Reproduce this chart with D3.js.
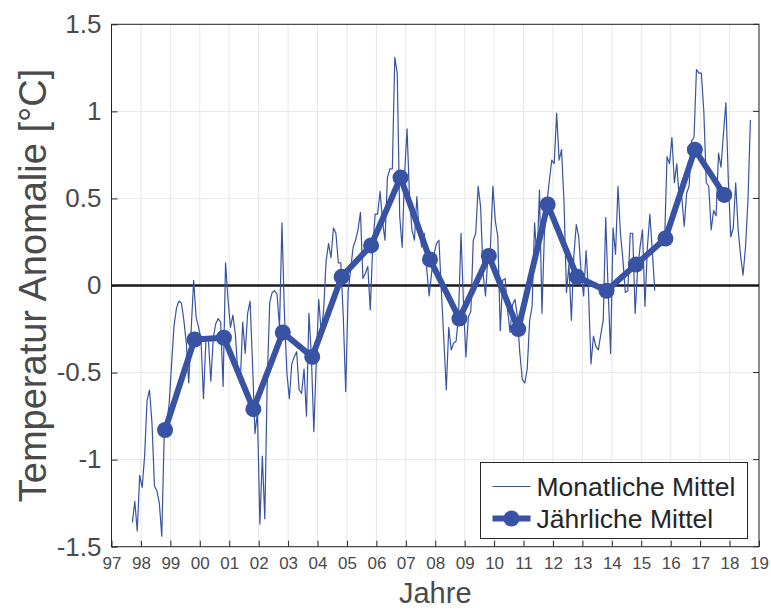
<!DOCTYPE html>
<html>
<head>
<meta charset="utf-8">
<script src="https://cdn.jsdelivr.net/npm/d3@7"></script>
<style>
body { margin: 0; background: #fff; }
svg text { font-family: Arial, "Liberation Sans", Helvetica, sans-serif; }
</style>
</head>
<body>
<div id="chart"></div>
<script>
// monthly anomalies, first value is Sep 1997, null = missing month
var monthly_start = 1997 + 8.5 / 12;
var monthly_values = [
  -1.36, -1.24, -1.41, -1.09, -1.16, -0.98, -0.66, -0.60, -0.79, -1.15, -1.18, -1.25,
  -1.44, -0.85, -0.80, -0.68, -0.45, -0.23, -0.13, -0.09, -0.10, -0.20, -0.33, -0.56,
  -0.25, 0.03, -0.18, -0.24, -0.31, -0.65, -0.31, -0.31, -0.55, -0.30, -0.22, -0.19,
  -0.21, -0.58, 0.13, -0.08, -0.24, -0.17, -0.28, -0.50, -0.56, -0.21, -0.39, -0.16,
  -0.09, -0.45, -0.85, -0.73, -1.37, -0.98, -1.34, -0.55, -0.10, -0.04, -0.03, -0.05,
  -0.24, 0.36, -0.16, -0.50, -0.65, -0.45, -0.41, -0.38, -0.60, -0.62, -0.48, -0.75,
  -0.16, -0.41, -0.84, -0.43, -0.08, -0.27, -0.14, 0.14, 0.24, 0.16, 0.33, 0.30,
  0.13, 0.13, -0.18, -0.61, -0.03, 0.09, 0.22, 0.26, 0.32, 0.42, 0.04, 0.07,
  0.11, -0.14, 0.22, 0.41, 0.41, 0.54, 0.37, 0.26, 0.62, 0.67, 0.67, 1.31,
  1.22, 0.40, 0.22, 0.64, 0.90, 0.51, 0.32, 0.26, 0.51, 0.30, 0.22, 0.30,
  0.10, -0.06, 0.07, 0.18, 0.24, 0.26, -0.03, -0.31, -0.60, -0.24, -0.37, -0.33,
  -0.32, -0.17, 0.30, -0.10, -0.41, -0.18, -0.15, 0.26, 0.30, 0.57, 0.45, 0.07,
  -0.06, 0.18, 0.22, 0.57, 0.37, 0.28, -0.26, 0.03, 0.04, -0.14, -0.27, -0.11,
  -0.08, -0.18, -0.39, -0.54, -0.56, -0.48, -0.20, -0.12, 0.36, 0.15, 0.55, -0.16,
  0.30, 0.47, 0.60, 0.72, 0.70, 0.99, 0.72, 0.78, 0.48, -0.04, 0.12, -0.20,
  0.17, 0.35, 0.28, 0.07, -0.06, 0.20, -0.04, -0.45, -0.29, -0.35, -0.37, -0.28,
  -0.20, 0.39, -0.03, -0.39, 0.33, 0.18, 0.57, 0.30, 0.15, -0.04, -0.03, 0.30,
  0.30, -0.16, 0.09, 0.22, 0.32, -0.12, 0.22, 0.41, 0.20, -0.03, null, null,
  0.30, 0.25, 0.74, 0.70, 0.85, 0.59, 0.70, 0.49, 0.51, 0.34, 0.53, 0.57,
  0.83, 0.85, 1.24, 1.22, 1.22, 1.00, 0.59, 0.57, 0.32, 0.43, 0.40, 0.76,
  0.68, 0.87, 1.05, 0.60, 0.28, 0.33, 0.59, 0.32, 0.17, 0.06, 0.22, 0.49,
  0.95
];

// annual means, plotted a little before the year tick as in the original
var annual_years = [1999, 2000, 2001, 2002, 2003, 2004, 2005, 2006, 2007, 2008,
                    2009, 2010, 2011, 2012, 2013, 2014, 2015, 2016, 2017, 2018];
var annual_values = [-0.83, -0.31, -0.30, -0.71, -0.27, -0.41, 0.05, 0.23, 0.62, 0.15,
                     -0.19, 0.17, -0.25, 0.465, 0.05, -0.03, 0.12, 0.27, 0.78, 0.52];
var annual_shift = -0.18;

var x_ticks = d3.range(1997, 2020);
var y_ticks = [-1.5, -1, -0.5, 0, 0.5, 1, 1.5];

var legend_labels = ["Monatliche Mittel", "Jährliche Mittel"];

var W = 771, H = 610;
var margin = {top: 24.3, right: 12, bottom: 63.3, left: 111.5};
var width = W - margin.left - margin.right,
    height = H - margin.top - margin.bottom;

var blue = "#3853a4";
var axis_col = "#262626";
var text_col = "#4a4a4a";

var svg = d3.select("#chart")
    .append("svg")
    .attr("width", W)
    .attr("height", H)
    .append("g")
    .attr("transform", "translate(" + margin.left + "," + margin.top + ")");

var x = d3.scaleLinear().domain([1997, 2019]).range([0, width]);
var y = d3.scaleLinear().domain([-1.5, 1.5]).range([height, 0]);

// grid
svg.append("g")
    .selectAll("line")
    .data(x_ticks)
    .enter()
    .append("line")
    .attr("x1", function(d) { return x(d); })
    .attr("x2", function(d) { return x(d); })
    .attr("y1", 0)
    .attr("y2", height)
    .attr("stroke", "#e8e8e8")
    .attr("stroke-width", 1);

svg.append("g")
    .selectAll("line")
    .data(y_ticks)
    .enter()
    .append("line")
    .attr("x1", 0)
    .attr("x2", width)
    .attr("y1", function(d) { return y(d); })
    .attr("y2", function(d) { return y(d); })
    .attr("stroke", "#e8e8e8")
    .attr("stroke-width", 1);

// axes with inward ticks
var xAxis = d3.axisBottom(x)
    .tickValues(x_ticks)
    .tickSizeInner(-6)
    .tickSizeOuter(0)
    .tickPadding(10)
    .tickFormat(function(d) { return d3.format("02d")(d % 100); });

var yAxis = d3.axisLeft(y)
    .tickValues(y_ticks)
    .tickSizeInner(-6)
    .tickSizeOuter(0)
    .tickPadding(10)
    .tickFormat(function(d) { return String(d); });

var gx = svg.append("g")
    .attr("transform", "translate(0," + height + ")")
    .call(xAxis);
gx.selectAll("text")
    .attr("font-size", "17px")
    .attr("fill", text_col)
    .attr("dy", "0.71em");
gx.selectAll("line").attr("stroke", axis_col);
gx.select(".domain").remove();

var gy = svg.append("g").call(yAxis);
gy.selectAll("text")
    .attr("font-size", "26px")
    .attr("fill", text_col);
gy.selectAll("line").attr("stroke", axis_col);
gy.select(".domain").remove();

// right side ticks
svg.append("g")
    .selectAll("line")
    .data(y_ticks)
    .enter()
    .append("line")
    .attr("x1", width - 6)
    .attr("x2", width)
    .attr("y1", function(d) { return y(d); })
    .attr("y2", function(d) { return y(d); })
    .attr("stroke", axis_col);

// frame
svg.append("rect")
    .attr("x", 0)
    .attr("y", 0)
    .attr("width", width)
    .attr("height", height)
    .attr("fill", "none")
    .attr("stroke", axis_col)
    .attr("stroke-width", 1);

// zero line
svg.append("line")
    .attr("x1", 0)
    .attr("x2", width)
    .attr("y1", y(0))
    .attr("y2", y(0))
    .attr("stroke", "#1a1a1a")
    .attr("stroke-width", 2.5);

// monthly line
var monthly = monthly_values.map(function(v, i) {
    return {t: monthly_start + i / 12, v: v};
});

var lineMonthly = d3.line()
    .defined(function(d) { return d.v !== null; })
    .x(function(d) { return x(d.t); })
    .y(function(d) { return y(d.v); });

svg.append("path")
    .datum(monthly)
    .attr("d", lineMonthly)
    .attr("fill", "none")
    .attr("stroke", blue)
    .attr("stroke-width", 1.2)
    .attr("stroke-linejoin", "round");

// annual line + dots
var annual = annual_years.map(function(yr, i) {
    return {t: yr + annual_shift, v: annual_values[i]};
});

var lineAnnual = d3.line()
    .x(function(d) { return x(d.t); })
    .y(function(d) { return y(d.v); });

svg.append("path")
    .datum(annual)
    .attr("d", lineAnnual)
    .attr("fill", "none")
    .attr("stroke", blue)
    .attr("stroke-width", 6)
    .attr("stroke-linejoin", "round");

svg.selectAll(".dot")
    .data(annual)
    .enter()
    .append("circle")
    .attr("class", "dot")
    .attr("cx", function(d) { return x(d.t); })
    .attr("cy", function(d) { return y(d.v); })
    .attr("r", 8)
    .attr("fill", blue);

// axis titles
svg.append("text")
    .attr("x", width / 2)
    .attr("y", height + 56)
    .attr("text-anchor", "middle")
    .attr("font-size", "29px")
    .attr("fill", text_col)
    .text("Jahre");

svg.append("text")
    .attr("transform", "translate(" + (-margin.left + 46) + "," + (height / 2) + ") rotate(-90)")
    .attr("text-anchor", "middle")
    .attr("font-size", "38px")
    .attr("fill", text_col)
    .text("Temperatur Anomalie [°C]");

// legend
var lg = svg.append("g")
    .attr("transform", "translate(" + (480.5 - margin.left) + "," + (462.5 - margin.top) + ")");

lg.append("rect")
    .attr("width", 267)
    .attr("height", 76)
    .attr("fill", "#fff")
    .attr("stroke", axis_col)
    .attr("stroke-width", 1);

lg.append("line")
    .attr("x1", 12).attr("x2", 50)
    .attr("y1", 24).attr("y2", 24)
    .attr("stroke", blue)
    .attr("stroke-width", 1.2);

lg.append("line")
    .attr("x1", 12).attr("x2", 50)
    .attr("y1", 56).attr("y2", 56)
    .attr("stroke", blue)
    .attr("stroke-width", 6);

lg.append("circle")
    .attr("cx", 31).attr("cy", 56)
    .attr("r", 8)
    .attr("fill", blue);

lg.selectAll(".lgtext")
    .data(legend_labels)
    .enter()
    .append("text")
    .attr("class", "lgtext")
    .attr("x", 56)
    .attr("y", function(d, i) { return 24 + i * 32; })
    .attr("dy", "0.35em")
    .attr("font-size", "26.5px")
    .attr("fill", "#262626")
    .text(function(d) { return d; });
</script>
</body>
</html>
